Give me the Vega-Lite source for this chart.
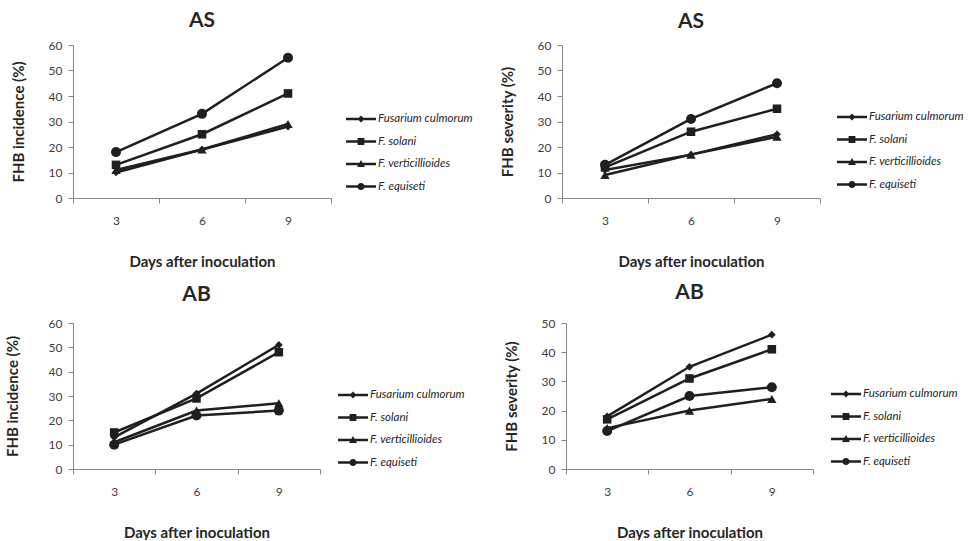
{
  "$schema": "https://vega.github.io/schema/vega-lite/v6.json",
  "background": "white",
  "padding": {"left": 5, "top": 10, "right": 5, "bottom": 0},
  "config": {
    "font": "Lato",
    "view": {"stroke": null},
    "title": {"fontSize": 21, "fontWeight": "bold", "color": "#262626", "offset": 8, "anchor": "middle"},
    "axis": {"domainColor": "#868686", "tickColor": "#868686", "labelColor": "#404040", "labelFontSize": 12, "titleFontSize": 15, "titleFontWeight": "bold", "titleColor": "#262626", "grid": false, "tickSize": 5},
    "axisX": {"labelPadding": 12, "titlePadding": 28, "labelAngle": 0, "tickBand": "extent"},
    "axisY": {"labelPadding": 6, "titlePadding": 22},
    "legend": {"orient": "none", "title": null, "labelFontSize": 11.5, "labelFontStyle": "italic", "labelColor": "#262626", "symbolSize": 400, "symbolOpacity": 1, "symbolStrokeWidth": 0, "symbolFillColor": "#1f1f1f", "rowPadding": 6.5, "labelOffset": 7, "padding": 0}
  },
  "data": {"values": [
    {"panel": "AS_inc", "series": "Fusarium culmorum", "day": 3, "value": 10},
    {"panel": "AS_inc", "series": "Fusarium culmorum", "day": 6, "value": 19},
    {"panel": "AS_inc", "series": "Fusarium culmorum", "day": 9, "value": 28},
    {"panel": "AS_inc", "series": "F. solani", "day": 3, "value": 13},
    {"panel": "AS_inc", "series": "F. solani", "day": 6, "value": 25},
    {"panel": "AS_inc", "series": "F. solani", "day": 9, "value": 41},
    {"panel": "AS_inc", "series": "F. verticillioides", "day": 3, "value": 11},
    {"panel": "AS_inc", "series": "F. verticillioides", "day": 6, "value": 19},
    {"panel": "AS_inc", "series": "F. verticillioides", "day": 9, "value": 29},
    {"panel": "AS_inc", "series": "F. equiseti", "day": 3, "value": 18},
    {"panel": "AS_inc", "series": "F. equiseti", "day": 6, "value": 33},
    {"panel": "AS_inc", "series": "F. equiseti", "day": 9, "value": 55},
    {"panel": "AS_sev", "series": "Fusarium culmorum", "day": 3, "value": 11},
    {"panel": "AS_sev", "series": "Fusarium culmorum", "day": 6, "value": 17},
    {"panel": "AS_sev", "series": "Fusarium culmorum", "day": 9, "value": 25},
    {"panel": "AS_sev", "series": "F. solani", "day": 3, "value": 12},
    {"panel": "AS_sev", "series": "F. solani", "day": 6, "value": 26},
    {"panel": "AS_sev", "series": "F. solani", "day": 9, "value": 35},
    {"panel": "AS_sev", "series": "F. verticillioides", "day": 3, "value": 9},
    {"panel": "AS_sev", "series": "F. verticillioides", "day": 6, "value": 17},
    {"panel": "AS_sev", "series": "F. verticillioides", "day": 9, "value": 24},
    {"panel": "AS_sev", "series": "F. equiseti", "day": 3, "value": 13},
    {"panel": "AS_sev", "series": "F. equiseti", "day": 6, "value": 31},
    {"panel": "AS_sev", "series": "F. equiseti", "day": 9, "value": 45},
    {"panel": "AB_inc", "series": "Fusarium culmorum", "day": 3, "value": 13},
    {"panel": "AB_inc", "series": "Fusarium culmorum", "day": 6, "value": 31},
    {"panel": "AB_inc", "series": "Fusarium culmorum", "day": 9, "value": 51},
    {"panel": "AB_inc", "series": "F. solani", "day": 3, "value": 15},
    {"panel": "AB_inc", "series": "F. solani", "day": 6, "value": 29},
    {"panel": "AB_inc", "series": "F. solani", "day": 9, "value": 48},
    {"panel": "AB_inc", "series": "F. verticillioides", "day": 3, "value": 11},
    {"panel": "AB_inc", "series": "F. verticillioides", "day": 6, "value": 24},
    {"panel": "AB_inc", "series": "F. verticillioides", "day": 9, "value": 27},
    {"panel": "AB_inc", "series": "F. equiseti", "day": 3, "value": 10},
    {"panel": "AB_inc", "series": "F. equiseti", "day": 6, "value": 22},
    {"panel": "AB_inc", "series": "F. equiseti", "day": 9, "value": 24},
    {"panel": "AB_sev", "series": "Fusarium culmorum", "day": 3, "value": 18},
    {"panel": "AB_sev", "series": "Fusarium culmorum", "day": 6, "value": 35},
    {"panel": "AB_sev", "series": "Fusarium culmorum", "day": 9, "value": 46},
    {"panel": "AB_sev", "series": "F. solani", "day": 3, "value": 17},
    {"panel": "AB_sev", "series": "F. solani", "day": 6, "value": 31},
    {"panel": "AB_sev", "series": "F. solani", "day": 9, "value": 41},
    {"panel": "AB_sev", "series": "F. verticillioides", "day": 3, "value": 14},
    {"panel": "AB_sev", "series": "F. verticillioides", "day": 6, "value": 20},
    {"panel": "AB_sev", "series": "F. verticillioides", "day": 9, "value": 24},
    {"panel": "AB_sev", "series": "F. equiseti", "day": 3, "value": 13},
    {"panel": "AB_sev", "series": "F. equiseti", "day": 6, "value": 25},
    {"panel": "AB_sev", "series": "F. equiseti", "day": 9, "value": 28}
  ]},
  "resolve": {"scale": {"shape": "independent", "size": "independent"}, "legend": {"shape": "independent"}},
  "spacing": 13,
  "align": "none",
  "vconcat": [
    {
      "spacing": 27,
      "align": "none",
      "resolve": {"scale": {"shape": "independent", "size": "independent"}, "legend": {"shape": "independent"}},
      "hconcat": [
        {
          "width": 258, "height": 153,
          "title": {"text": "AS", "offset": 8},
          "transform": [{"filter": "datum.panel == 'AS_inc'"}],
          "encoding": {
            "x": {"field": "day", "type": "ordinal", "scale": {"type": "band", "paddingInner": 0, "paddingOuter": 0}, "axis": {"title": "Days after inoculation"}},
            "y": {"field": "value", "type": "quantitative", "scale": {"domain": [0, 60], "nice": false}, "axis": {"title": "FHB incidence (%)", "values": [0, 10, 20, 30, 40, 50, 60]}}
          },
          "resolve": {"scale": {"shape": "independent"}},
          "layer": [
            {"mark": {"type": "line", "color": "#1f1f1f", "strokeWidth": 2.5}, "encoding": {"detail": {"field": "series"}}},
            {"mark": {"type": "point", "filled": true, "opacity": 1, "color": "#1f1f1f"},
             "encoding": {
               "shape": {"field": "series", "scale": {"domain": ["Fusarium culmorum", "F. solani", "F. verticillioides", "F. equiseti"], "range": ["diamond", "square", "triangle-up", "circle"]}, "legend": null},
               "size": {"field": "series", "scale": {"domain": ["Fusarium culmorum", "F. solani", "F. verticillioides", "F. equiseti"], "range": [60, 100, 95, 110]}, "legend": null}
             }},
            {"mark": {"type": "point", "filled": true, "opacity": 0, "color": "#1f1f1f", "size": 400},
             "encoding": {
               "shape": {"field": "series", "scale": {"domain": ["Fusarium culmorum", "F. solani", "F. verticillioides", "F. equiseti"], "range": ["M-1.5,-0.12H1.5V0.12H-1.5Z M0,-0.35L0.35,0L0,0.35L-0.35,0Z", "M-1.5,-0.12H1.5V0.12H-1.5Z M-0.34,-0.34H0.34V0.34H-0.34Z", "M-1.5,-0.12H1.5V0.12H-1.5Z M0,-0.4L0.4,0.3H-0.4Z", "M-1.5,-0.12H1.5V0.12H-1.5Z M-0.36,0A0.36,0.36,0,1,1,0.36,0A0.36,0.36,0,1,1,-0.36,0Z"]}, "legend": {"legendX": 278, "legendY": 64}}
             }}
          ]
        },
        {
          "width": 258, "height": 153,
          "title": {"text": "AS", "offset": 7},
          "transform": [{"filter": "datum.panel == 'AS_sev'"}],
          "encoding": {
            "x": {"field": "day", "type": "ordinal", "scale": {"type": "band", "paddingInner": 0, "paddingOuter": 0}, "axis": {"title": "Days after inoculation"}},
            "y": {"field": "value", "type": "quantitative", "scale": {"domain": [0, 60], "nice": false}, "axis": {"title": "FHB severity (%)", "values": [0, 10, 20, 30, 40, 50, 60]}}
          },
          "resolve": {"scale": {"shape": "independent"}},
          "layer": [
            {"mark": {"type": "line", "color": "#1f1f1f", "strokeWidth": 2.5}, "encoding": {"detail": {"field": "series"}}},
            {"mark": {"type": "point", "filled": true, "opacity": 1, "color": "#1f1f1f"},
             "encoding": {
               "shape": {"field": "series", "scale": {"domain": ["Fusarium culmorum", "F. solani", "F. verticillioides", "F. equiseti"], "range": ["diamond", "square", "triangle-up", "circle"]}, "legend": null},
               "size": {"field": "series", "scale": {"domain": ["Fusarium culmorum", "F. solani", "F. verticillioides", "F. equiseti"], "range": [60, 100, 95, 110]}, "legend": null}
             }},
            {"mark": {"type": "point", "filled": true, "opacity": 0, "color": "#1f1f1f", "size": 400},
             "encoding": {
               "shape": {"field": "series", "scale": {"domain": ["Fusarium culmorum", "F. solani", "F. verticillioides", "F. equiseti"], "range": ["M-1.5,-0.12H1.5V0.12H-1.5Z M0,-0.35L0.35,0L0,0.35L-0.35,0Z", "M-1.5,-0.12H1.5V0.12H-1.5Z M-0.34,-0.34H0.34V0.34H-0.34Z", "M-1.5,-0.12H1.5V0.12H-1.5Z M0,-0.4L0.4,0.3H-0.4Z", "M-1.5,-0.12H1.5V0.12H-1.5Z M-0.36,0A0.36,0.36,0,1,1,0.36,0A0.36,0.36,0,1,1,-0.36,0Z"]}, "legend": {"legendX": 280, "legendY": 62}}
             }}
          ]
        }
      ]
    },
    {
      "spacing": 39,
      "align": "none",
      "resolve": {"scale": {"shape": "independent", "size": "independent"}, "legend": {"shape": "independent"}},
      "hconcat": [
        {
          "width": 247, "height": 146,
          "title": {"text": "AB", "offset": 12},
          "transform": [{"filter": "datum.panel == 'AB_inc'"}],
          "encoding": {
            "x": {"field": "day", "type": "ordinal", "scale": {"type": "band", "paddingInner": 0, "paddingOuter": 0}, "axis": {"title": "Days after inoculation"}},
            "y": {"field": "value", "type": "quantitative", "scale": {"domain": [0, 60], "nice": false}, "axis": {"title": "FHB incidence (%)", "values": [0, 10, 20, 30, 40, 50, 60], "titlePadding": 28}}
          },
          "resolve": {"scale": {"shape": "independent"}},
          "layer": [
            {"mark": {"type": "line", "color": "#1f1f1f", "strokeWidth": 2.5}, "encoding": {"detail": {"field": "series"}}},
            {"mark": {"type": "point", "filled": true, "opacity": 1, "color": "#1f1f1f"},
             "encoding": {
               "shape": {"field": "series", "scale": {"domain": ["Fusarium culmorum", "F. solani", "F. verticillioides", "F. equiseti"], "range": ["diamond", "square", "triangle-up", "circle"]}, "legend": null},
               "size": {"field": "series", "scale": {"domain": ["Fusarium culmorum", "F. solani", "F. verticillioides", "F. equiseti"], "range": [60, 100, 95, 110]}, "legend": null}
             }},
            {"mark": {"type": "point", "filled": true, "opacity": 0, "color": "#1f1f1f", "size": 400},
             "encoding": {
               "shape": {"field": "series", "scale": {"domain": ["Fusarium culmorum", "F. solani", "F. verticillioides", "F. equiseti"], "range": ["M-1.5,-0.12H1.5V0.12H-1.5Z M0,-0.35L0.35,0L0,0.35L-0.35,0Z", "M-1.5,-0.12H1.5V0.12H-1.5Z M-0.34,-0.34H0.34V0.34H-0.34Z", "M-1.5,-0.12H1.5V0.12H-1.5Z M0,-0.4L0.4,0.3H-0.4Z", "M-1.5,-0.12H1.5V0.12H-1.5Z M-0.36,0A0.36,0.36,0,1,1,0.36,0A0.36,0.36,0,1,1,-0.36,0Z"]}, "legend": {"legendX": 270, "legendY": 62}}
             }}
          ]
        },
        {
          "width": 247, "height": 146,
          "title": {"text": "AB", "offset": 14},
          "transform": [{"filter": "datum.panel == 'AB_sev'"}],
          "encoding": {
            "x": {"field": "day", "type": "ordinal", "scale": {"type": "band", "paddingInner": 0, "paddingOuter": 0}, "axis": {"title": "Days after inoculation"}},
            "y": {"field": "value", "type": "quantitative", "scale": {"domain": [0, 50], "nice": false}, "axis": {"title": "FHB severity (%)", "values": [0, 10, 20, 30, 40, 50]}}
          },
          "resolve": {"scale": {"shape": "independent"}},
          "layer": [
            {"mark": {"type": "line", "color": "#1f1f1f", "strokeWidth": 2.5}, "encoding": {"detail": {"field": "series"}}},
            {"mark": {"type": "point", "filled": true, "opacity": 1, "color": "#1f1f1f"},
             "encoding": {
               "shape": {"field": "series", "scale": {"domain": ["Fusarium culmorum", "F. solani", "F. verticillioides", "F. equiseti"], "range": ["diamond", "square", "triangle-up", "circle"]}, "legend": null},
               "size": {"field": "series", "scale": {"domain": ["Fusarium culmorum", "F. solani", "F. verticillioides", "F. equiseti"], "range": [60, 100, 95, 110]}, "legend": null}
             }},
            {"mark": {"type": "point", "filled": true, "opacity": 0, "color": "#1f1f1f", "size": 400},
             "encoding": {
               "shape": {"field": "series", "scale": {"domain": ["Fusarium culmorum", "F. solani", "F. verticillioides", "F. equiseti"], "range": ["M-1.5,-0.12H1.5V0.12H-1.5Z M0,-0.35L0.35,0L0,0.35L-0.35,0Z", "M-1.5,-0.12H1.5V0.12H-1.5Z M-0.34,-0.34H0.34V0.34H-0.34Z", "M-1.5,-0.12H1.5V0.12H-1.5Z M0,-0.4L0.4,0.3H-0.4Z", "M-1.5,-0.12H1.5V0.12H-1.5Z M-0.36,0A0.36,0.36,0,1,1,0.36,0A0.36,0.36,0,1,1,-0.36,0Z"]}, "legend": {"legendX": 270, "legendY": 61}}
             }}
          ]
        }
      ]
    }
  ]
}
